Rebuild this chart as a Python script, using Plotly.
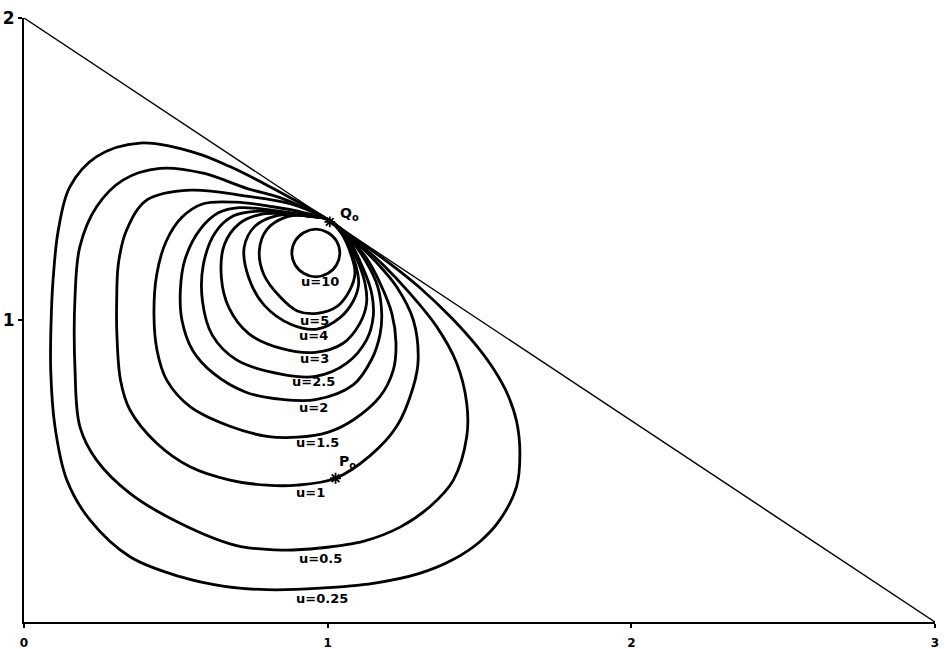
import plotly.graph_objects as go

# ---- data (chart units) ----
hyp_x = [0, 3]
hyp_y = [2, 0]

u025_x = [1.0, 1.10, 1.194, 1.30, 1.41, 1.49, 1.548, 1.592, 1.622, 1.633, 1.622, 1.567, 1.50, 1.41, 1.30, 1.15, 0.975, 0.80, 0.66, 0.514, 0.349, 0.217, 0.141, 0.102, 0.088, 0.090, 0.097, 0.113, 0.151, 0.239, 0.382, 0.569, 0.678, 0.788, 0.898, 1.0]
u025_y = [1.333, 1.262, 1.195, 1.11, 1.005, 0.915, 0.835, 0.755, 0.665, 0.56, 0.448, 0.338, 0.265, 0.205, 0.16, 0.128, 0.112, 0.107, 0.118, 0.15, 0.216, 0.338, 0.47, 0.647, 0.834, 1.02, 1.15, 1.298, 1.441, 1.541, 1.586, 1.552, 1.508, 1.453, 1.393, 1.333]

u05_x = [1.0, 1.09, 1.183, 1.271, 1.359, 1.425, 1.458, 1.458, 1.414, 1.34, 1.24, 1.12, 0.975, 0.85, 0.70, 0.514, 0.349, 0.239, 0.184, 0.168, 0.168, 0.184, 0.239, 0.327, 0.448, 0.59, 0.733, 0.843, 0.92, 1.0]
u05_y = [1.333, 1.265, 1.182, 1.088, 0.978, 0.857, 0.724, 0.614, 0.47, 0.385, 0.315, 0.268, 0.245, 0.238, 0.253, 0.327, 0.426, 0.536, 0.647, 0.834, 1.077, 1.243, 1.375, 1.464, 1.502, 1.486, 1.436, 1.405, 1.372, 1.333]

u1_x = [1.0, 1.08, 1.161, 1.227, 1.282, 1.298, 1.282, 1.227, 1.139, 1.026, 0.898, 0.80, 0.678, 0.547, 0.437, 0.349, 0.318, 0.306, 0.305, 0.311, 0.338, 0.404, 0.547, 0.733, 0.876, 1.0]
u1_y = [1.333, 1.27, 1.19, 1.11, 1.0, 0.868, 0.779, 0.647, 0.55, 0.476, 0.453, 0.453, 0.47, 0.514, 0.592, 0.702, 0.80, 0.95, 1.05, 1.188, 1.298, 1.397, 1.43, 1.41, 1.385, 1.333]

u15_x = [1.0, 1.07, 1.128, 1.172, 1.211, 1.225, 1.216, 1.172, 1.084, 1.0, 0.90, 0.80, 0.678, 0.547, 0.47, 0.438, 0.428, 0.437, 0.468, 0.52, 0.59, 0.70, 0.82, 0.92, 1.0]
u15_y = [1.333, 1.276, 1.205, 1.123, 1.023, 0.924, 0.834, 0.746, 0.669, 0.628, 0.612, 0.615, 0.648, 0.713, 0.801, 0.90, 1.02, 1.15, 1.26, 1.34, 1.385, 1.39, 1.375, 1.356, 1.333]

u2_x = [1.0, 1.065, 1.128, 1.165, 1.178, 1.172, 1.145, 1.084, 0.96, 0.85, 0.733, 0.623, 0.555, 0.52, 0.515, 0.53, 0.58, 0.64, 0.71, 0.82, 0.92, 1.0]
u2_y = [1.333, 1.279, 1.19, 1.11, 1.02, 0.95, 0.87, 0.785, 0.736, 0.737, 0.76, 0.824, 0.90, 1.0, 1.1, 1.2, 1.3, 1.355, 1.372, 1.363, 1.349, 1.333]

u25_x = [1.0, 1.06, 1.117, 1.145, 1.15, 1.128, 1.063, 0.96, 0.85, 0.70, 0.62, 0.588, 0.59, 0.63, 0.69, 0.76, 0.85, 0.93, 1.0]
u25_y = [1.333, 1.281, 1.17, 1.088, 1.011, 0.934, 0.857, 0.813, 0.82, 0.868, 0.95, 1.06, 1.18, 1.29, 1.345, 1.36, 1.355, 1.345, 1.333]

u3_x = [1.0, 1.055, 1.101, 1.123, 1.128, 1.106, 1.051, 0.96, 0.85, 0.74, 0.675, 0.65, 0.66, 0.71, 0.78, 0.86, 0.94, 1.0]
u3_y = [1.333, 1.283, 1.19, 1.122, 1.055, 0.989, 0.923, 0.893, 0.905, 0.955, 1.04, 1.14, 1.25, 1.32, 1.35, 1.352, 1.343, 1.333]

u4_x = [1.0, 1.05, 1.09, 1.102, 1.084, 1.041, 0.965, 0.88, 0.79, 0.74, 0.725, 0.76, 0.83, 0.90, 0.95, 1.0]
u4_y = [1.333, 1.284, 1.19, 1.12, 1.062, 1.008, 0.97, 0.985, 1.05, 1.14, 1.24, 1.31, 1.345, 1.348, 1.342, 1.333]

u5_x = [1.0, 1.045, 1.079, 1.09, 1.073, 1.03, 0.965, 0.90, 0.843, 0.79, 0.775, 0.80, 0.86, 0.92, 0.96, 1.0]
u5_y = [1.333, 1.287, 1.21, 1.155, 1.099, 1.044, 1.022, 1.03, 1.077, 1.15, 1.23, 1.30, 1.34, 1.347, 1.342, 1.333]

u10_x = [1.040, 1.029, 1.0, 0.961, 0.922, 0.893, 0.882, 0.893, 0.922, 0.961, 1.0, 1.029, 1.040]
u10_y = [1.222, 1.262, 1.29, 1.301, 1.29, 1.262, 1.222, 1.182, 1.154, 1.143, 1.154, 1.182, 1.222]

curve_names = ["u=0.25", "u=0.5", "u=1", "u=1.5", "u=2", "u=2.5", "u=3", "u=4", "u=5", "u=10"]
curves_x = [u025_x, u05_x, u1_x, u15_x, u2_x, u25_x, u3_x, u4_x, u5_x, u10_x]
curves_y = [u025_y, u05_y, u1_y, u15_y, u2_y, u25_y, u3_y, u4_y, u5_y, u10_y]

# label anchor points for the curve names
label_x = [0.981, 0.975, 0.942, 0.968, 0.952, 0.952, 0.958, 0.952, 0.955, 0.975]
label_y = [0.079, 0.209, 0.430, 0.593, 0.709, 0.795, 0.871, 0.950, 1.000, 1.126]

pt_names = ["Q<sub>o</sub>", "P<sub>o</sub>"]
pt_x = [1.007, 1.026]
pt_y = [1.325, 0.476]
pt_label_x = [1.072, 1.064]
pt_label_y = [1.350, 0.530]

x_ticks = [0, 1, 2, 3]
y_ticks = [1, 2]

FONT = "DejaVu Sans"

fig = go.Figure()

fig.add_trace(go.Scatter(x=hyp_x, y=hyp_y, mode="lines",
                         line=dict(color="black", width=1.4), hoverinfo="skip",
                         cliponaxis=False))

for name, cx, cy in zip(curve_names, curves_x, curves_y):
    fig.add_trace(go.Scatter(x=cx, y=cy, mode="lines", name=name,
                             line=dict(color="black", width=2.8, shape="spline", smoothing=1)))

fig.add_trace(go.Scatter(x=pt_x, y=pt_y, mode="markers",
                         marker=dict(symbol="asterisk-open", size=9, color="black",
                                     line=dict(color="black", width=1.8))))

for name, lx, ly in zip(curve_names, label_x, label_y):
    fig.add_annotation(x=lx, y=ly, text=name, showarrow=False,
                       font=dict(family=FONT, size=13, color="black", weight="bold"),
                       xanchor="center", yanchor="middle")

for name, lx, ly in zip(pt_names, pt_label_x, pt_label_y):
    fig.add_annotation(x=lx, y=ly, text=name, showarrow=False,
                       font=dict(family=FONT, size=14, color="black", weight="bold"),
                       xanchor="center", yanchor="middle")

fig.update_layout(
    width=949, height=649,
    margin=dict(l=24, r=14, t=18, b=27),
    paper_bgcolor="white", plot_bgcolor="white",
    showlegend=False,
    xaxis=dict(range=[0, 3], tickvals=x_ticks, ticktext=[str(v) for v in x_ticks],
               automargin=False, ticklabelstandoff=5,
               showgrid=False, zeroline=False, showline=True, linecolor="black", linewidth=2,
               ticks="outside", ticklen=4, tickwidth=1.5, tickcolor="black",
               tickfont=dict(family=FONT, size=12, color="black", weight="bold")),
    yaxis=dict(range=[0, 2], tickvals=y_ticks, ticktext=[str(v) for v in y_ticks],
               automargin=False,
               showgrid=False, zeroline=False, showline=True, linecolor="black", linewidth=2,
               ticks="outside", ticklen=4, tickwidth=1.5, tickcolor="black",
               tickfont=dict(family=FONT, size=17, color="black", weight="bold")),
)

# remove the default page margin so the figure sits at the window's top-left corner
fig.write_html("out.html", config={"displayModeBar": False},
               post_script="document.body.style.margin='0px';")
